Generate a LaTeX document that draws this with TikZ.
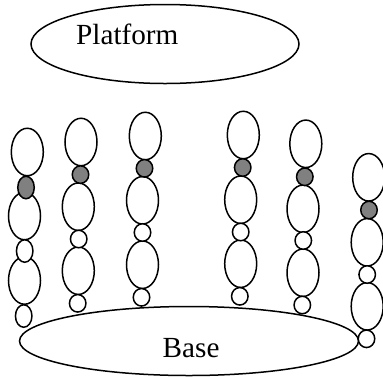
\documentclass[tikz,border=0pt]{standalone}
\usepackage{fontspec}
\setmainfont{Liberation Serif}
\usetikzlibrary{shapes.geometric}
\tikzset{
  oval/.style={ellipse,draw=black,line width=1.5pt,inner sep=0pt,fill=white},
  bigoval/.style={oval,minimum width=32pt,minimum height=47.5pt},
  smalloval/.style={oval,minimum width=16.5pt,minimum height=17.5pt},
  jointoval/.style={smalloval,fill=black!50},
  caption/.style={inner sep=0pt,anchor=base west,font=\fontsize{29.2}{30}\selectfont}
}
\begin{document}
\begin{tikzpicture}[x=1pt,y=-1pt]
\useasboundingbox (0,0) rectangle (383,376);
\node[oval,minimum width=268pt,minimum height=79pt] (platform) at (165,44) {};
\node[oval,minimum width=339pt,minimum height=69pt] (base) at (189,341) {};
\node[caption] (platformtext) at (76,44) {Platform};
\node[caption] (basetext) at (162.5,357) {Base};
% chain 1
\node[bigoval] (a1) at (27.3,152) {};
\node[bigoval] (a2) at (24.5,216) {};
\node[bigoval] (a3) at (24.5,280.5) {};
\node[jointoval,minimum height=22.5pt] (a4) at (26,187.5) {};
\node[smalloval,minimum height=22.5pt] (a5) at (24.7,251) {};
\node[smalloval,minimum height=22.5pt] (a6) at (23.7,316) {};
% chain 2
\node[bigoval] (b1) at (81,142) {};
\node[bigoval] (b2) at (78.3,206.7) {};
\node[bigoval] (b3) at (78.3,270.7) {};
\node[jointoval] (b4) at (80.5,174.6) {};
\node[smalloval] (b5) at (78.7,239) {};
\node[smalloval] (b6) at (77.7,303.3) {};
% chain 3
\node[bigoval] (c1) at (145.3,136) {};
\node[bigoval] (c2) at (142.5,200.3) {};
\node[bigoval] (c3) at (142.5,264.7) {};
\node[jointoval] (c4) at (144.5,168.3) {};
\node[smalloval] (c5) at (142.5,232.5) {};
\node[smalloval] (c6) at (141.5,297.3) {};
% chain 4
\node[bigoval] (d1) at (243.3,135) {};
\node[bigoval] (d2) at (240.7,199.7) {};
\node[bigoval] (d3) at (240.7,263.7) {};
\node[jointoval] (d4) at (242.7,167.5) {};
\node[smalloval] (d5) at (240.7,232) {};
\node[smalloval] (d6) at (239.8,296.3) {};
% chain 5
\node[bigoval] (e1) at (305.8,143.8) {};
\node[bigoval] (e2) at (303,208.8) {};
\node[bigoval] (e3) at (303,272.7) {};
\node[jointoval] (e4) at (304.8,176.8) {};
\node[smalloval] (e5) at (303.3,240.5) {};
\node[smalloval] (e6) at (302.3,305) {};
% chain 6
\node[bigoval] (f1) at (368.7,177.3) {};
\node[bigoval] (f2) at (367.2,242.3) {};
\node[bigoval] (f3) at (367.2,306.3) {};
\node[jointoval] (f4) at (369,210) {};
\node[smalloval] (f5) at (367.2,274.5) {};
\node[smalloval] (f6) at (366.5,338.8) {};
\end{tikzpicture}
\end{document}
